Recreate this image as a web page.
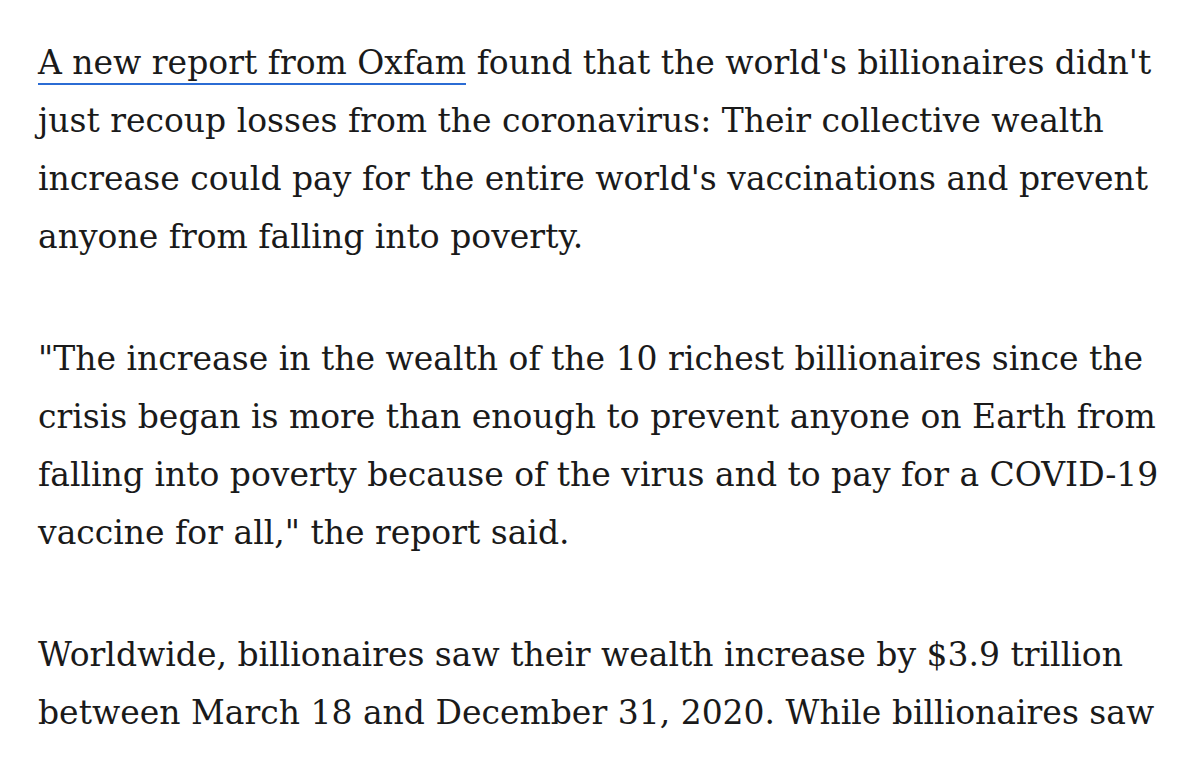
<!DOCTYPE html>
<html><head><meta charset="utf-8">
<script src="https://cdn.jsdelivr.net/npm/chart.js@4"></script>
<style>
html,body{margin:0;padding:0;background:#fff;width:1200px;height:758px;overflow:hidden}
#wrap{position:absolute;left:38px;top:34px;font-family:"DejaVu Serif",serif;font-size:33px;color:#1a1a1a;line-height:58px;white-space:nowrap}
p{margin:0 0 64px 0}
a{color:#1a1a1a;text-decoration:none;border-bottom:2px solid #2b6cd4;padding-bottom:1px}
</style></head><body>
<div id="wrap"></div>
<script>
const paragraphs = [
  ["<a>A new report from Oxfam</a> found that the world's billionaires didn't",
   "just recoup losses from the coronavirus: Their collective wealth",
   "increase could pay for the entire world's vaccinations and prevent",
   "anyone from falling into poverty."],
  ["\"The increase in the wealth of the 10 richest billionaires since the",
   "crisis began is more than enough to prevent anyone on Earth from",
   "falling into poverty because of the virus and to pay for a COVID-19",
   "vaccine for all,\" the report said."],
  ["Worldwide, billionaires saw their wealth increase by $3.9 trillion",
   "between March 18 and December 31, 2020. While billionaires saw"]
];
document.getElementById('wrap').innerHTML = paragraphs.map(p => '<p>' + p.join('<br>') + '</p>').join('');
</script>
</body></html>
